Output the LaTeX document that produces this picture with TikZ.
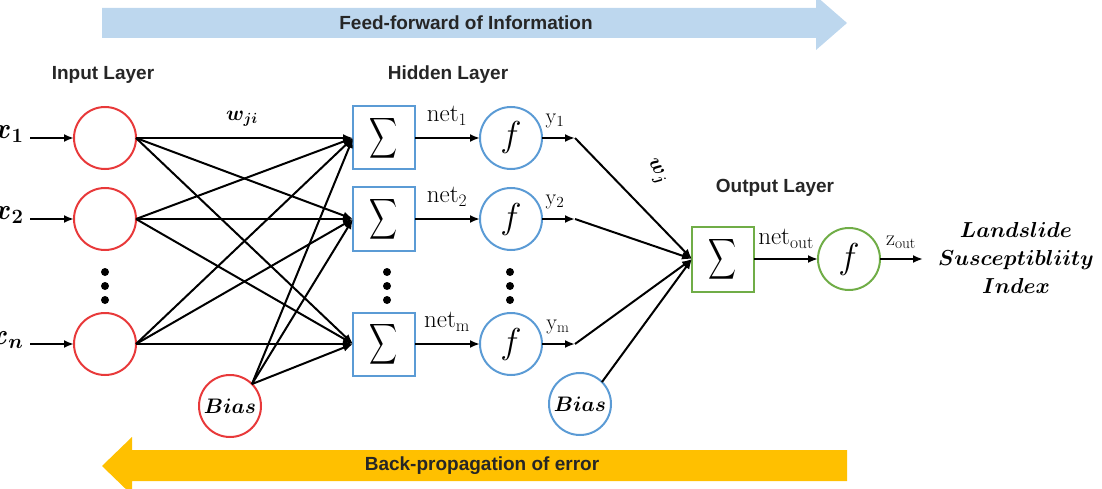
\RequirePackage{fix-cm}
\documentclass[tikz,border=0pt]{standalone}
\usepackage{amsmath}
\usepackage{fontspec}
\newfontfamily\labfont{Liberation Sans}
\usetikzlibrary{arrows.meta}
\definecolor{nred}{HTML}{E8393A}
\definecolor{nblue}{HTML}{5B9BD5}
\definecolor{ngreen}{HTML}{70AD47}
\definecolor{ffblue}{HTML}{BDD7EE}
\definecolor{bpyel}{HTML}{FFC000}
\definecolor{txt}{HTML}{262626}
\newcommand{\bigsum}{\scalebox{0.78}[1.14]{$\displaystyle\sum$}}
\begin{document}
\begin{tikzpicture}[x=1pt,y=-1pt,
  neuron/.style={circle,draw,line width=2pt,minimum size=62pt,inner sep=0pt,outer sep=0pt},
  inn/.style={neuron,draw=nred},
  hid/.style={neuron,draw=nblue},
  outc/.style={neuron,draw=ngreen},
  sumbox/.style={draw,line width=2pt,minimum width=62pt,minimum height=63pt,inner sep=0pt,outer sep=0pt,font=\fontsize{30}{32}\selectfont},
  ffont/.style={font=\fontsize{36}{38}\selectfont},
  conn/.style={line width=2pt,-{Latex[length=10pt,width=8pt]}},
  layer/.style={font=\labfont\bfseries\fontsize{19}{22}\selectfont,text=txt},
  xlab/.style={anchor=east,font=\fontsize{29}{31}\selectfont},
  netlab/.style={font=\fontsize{25}{27}\selectfont},
  ylab/.style={font=\fontsize{22}{24}\selectfont},
  dot/.style={circle,fill=black,inner sep=0pt,minimum size=8pt},
  biaslab/.style={font=\fontsize{21}{23}\selectfont}
]
\useasboundingbox (0,0) rectangle (1102,489);

% big arrows
\fill[ffblue] (102,8) -- (816,8) -- (816,-4) -- (847,23) -- (816,50) -- (816,38) -- (102,38) -- cycle;
\node[layer] (fftext) at (466,23) {Feed-forward of Information};
\fill[bpyel] (847,450) -- (132,450) -- (132,437) -- (102,466) -- (132,495) -- (132,481) -- (847,481) -- cycle;
\node[layer] (bptext) at (482,466) {Back-propagation of error};

% layer titles
\node[layer] (inl) at (103,75) {Input Layer};
\node[layer] (hidl) at (448,75) {Hidden Layer};
\node[layer] (outl) at (775,188) {Output Layer};

% input layer
\node[inn] (I1) at (105,138) {};
\node[inn] (I2) at (105,219) {};
\node[inn] (In) at (105,344) {};
\node[inn,biaslab] (B) at (230,406) {$\boldsymbol{Bias}$};
\node[dot] (d1) at (105,272) {};
\node[dot] (d2) at (105,286) {};
\node[dot] (d3) at (105,300) {};

\coordinate (X1) at (30,138);
\coordinate (X2) at (30,219);
\coordinate (Xn) at (30,344);
\node[xlab] (x1) at (27,134) {$\boldsymbol{x}_{\boldsymbol{1}}$};
\node[xlab] (x2) at (27,215) {$\boldsymbol{x}_{\boldsymbol{2}}$};
\node[xlab] (xn) at (27,340) {$\boldsymbol{x}_{\boldsymbol{n}}$};
\draw[conn] (X1) -- (I1.west);
\draw[conn] (X2) -- (I2.west);
\draw[conn] (Xn) -- (In.west);

% hidden layer
\node[sumbox,draw=nblue] (H1) at (384,138) {\bigsum};
\node[sumbox,draw=nblue] (H2) at (384,219) {\bigsum};
\node[sumbox,draw=nblue] (Hm) at (384,344) {\bigsum};
\node[hid,ffont] (F1) at (511,138) {$f$};
\node[hid,ffont] (F2) at (511,219) {$f$};
\node[hid,ffont] (Fm) at (511,344) {$f$};
\node[dot] (e1) at (387,272) {};
\node[dot] (e2) at (387,286) {};
\node[dot] (e3) at (387,300) {};
\node[dot] (g1) at (510,272) {};
\node[dot] (g2) at (510,286) {};
\node[dot] (g3) at (510,300) {};

% input -> hidden
\foreach \s in {I1,I2,In}{
  \foreach \t in {H1,H2,Hm}{
    \draw[conn] (\s.east) -- (\t.west);
  }
}
\foreach \t in {H1,H2,Hm}{
  \draw[conn] (B.45) -- (\t.west);
}
\node[font=\fontsize{21}{23}\selectfont] (wji) at (242,119) {$\boldsymbol{w_{ji}}$};

% sum -> f
\draw[conn] (H1.east) -- (F1.west);
\draw[conn] (H2.east) -- (F2.west);
\draw[conn] (Hm.east) -- (Fm.west);
\node[netlab] (n1) at (447,116) {$\mathrm{net}_1$};
\node[netlab] (n2) at (447,197) {$\mathrm{net}_2$};
\node[netlab] (nm) at (447,322) {$\mathrm{net}_\mathrm{m}$};

% f -> outputs
\coordinate (Y1) at (575,138);
\coordinate (Y2) at (575,219);
\coordinate (Ym) at (575,344);
\draw[conn] (F1.east) -- (Y1);
\draw[conn] (F2.east) -- (Y2);
\draw[conn] (Fm.east) -- (Ym);
\node[ylab] (y1) at (555,121) {$\mathrm{y}_1$};
\node[ylab] (y2) at (555,202) {$\mathrm{y}_2$};
\node[ylab] (ym) at (558,327) {$\mathrm{y}_\mathrm{m}$};

% output layer
\node[sumbox,draw=ngreen,minimum height=65pt] (O) at (723,259) {\bigsum};
\node[outc,ffont] (G) at (849,259) {$f$};
\node[hid,biaslab] (OB) at (580,404) {$\boldsymbol{Bias}$};
\draw[conn] (Y1) -- (O.west);
\draw[conn] (Y2) -- (O.west);
\draw[conn] (Ym) -- (O.west);
\draw[conn] (OB.45) -- (O.west);
\node[font=\fontsize{21}{23}\selectfont,rotate=-60,inner sep=0pt] (wj) at (656,172) {$\boldsymbol{w_j}$};
\draw[conn] (O.east) -- (G.west);
\node[netlab] (nout) at (786,239) {$\mathrm{net}_\mathrm{out}$};
\coordinate (Z) at (923,259);
\draw[conn] (G.east) -- (Z);
\node[ylab] (zout) at (901,242) {$\mathrm{z}_\mathrm{out}$};
\node[align=center,font=\fontsize{21.7}{28}\selectfont] (lsi) at (1016,258)
  {$\boldsymbol{Landslide}$\\ $\boldsymbol{Susceptibliity}$\\ $\boldsymbol{Index}$};
\end{tikzpicture}
\end{document}
